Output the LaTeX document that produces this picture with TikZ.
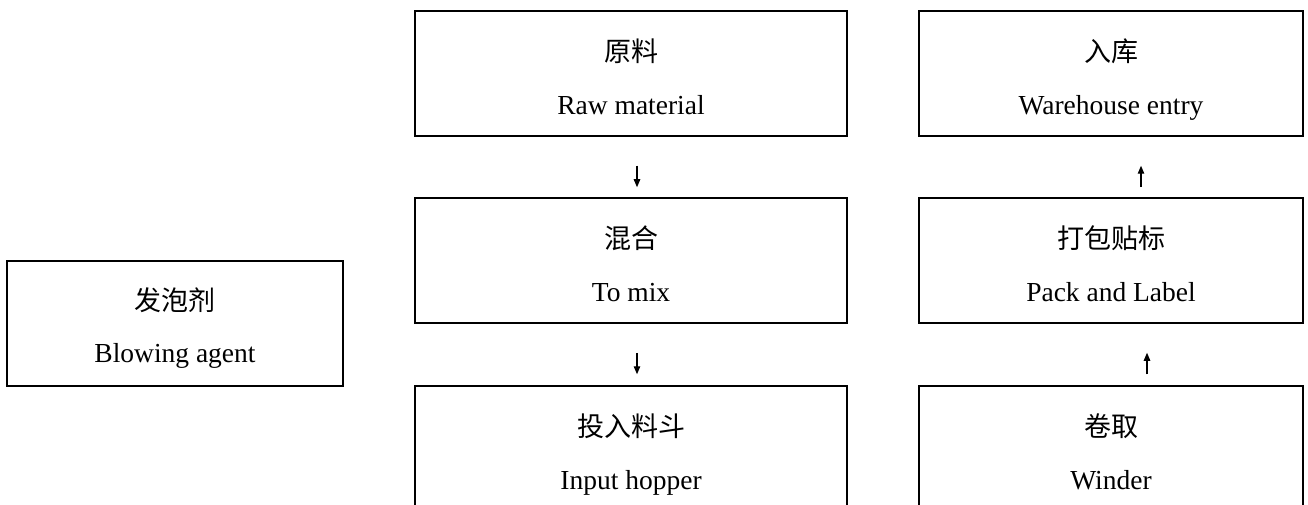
\documentclass[tikz,border=0pt]{standalone}
\usepackage{fontspec}
\setmainfont{Liberation Serif}
\newfontfamily\cjk{Noto Sans CJK SC}
\usetikzlibrary{calc,arrows.meta}
\begin{document}
\begin{tikzpicture}[x=1bp,y=-1bp,
  box/.style={draw=black,line width=1.5bp,rectangle,inner sep=0pt,minimum height=125bp},
  midbox/.style={box,minimum width=432bp},
  rightbox/.style={box,minimum width=384bp},
  leftbox/.style={box,minimum width=336bp},
  cn/.style={font=\cjk\fontsize{27bp}{30bp}\selectfont,inner sep=0pt,anchor=center},
  en/.style={font=\fontsize{27.5bp}{30bp}\selectfont,inner sep=0pt,anchor=base},
  arr/.style={line width=1.1bp,-{Triangle[length=8bp,width=6.5bp]}}]
\useasboundingbox (0,0) rectangle (1308,505);
% boxes
\node[midbox] (raw) at (631,73.5) {};
\node[midbox] (mix) at (631,260.5) {};
\node[midbox] (hop) at (631,448.5) {};
\node[rightbox] (ware) at (1111,73.5) {};
\node[rightbox] (pack) at (1111,260.5) {};
\node[rightbox] (wind) at (1111,448.5) {};
\node[leftbox] (blow) at (175,323.5) {};
% texts
\node[cn] (rawc) at ($(raw.north)+(0,41)$) {原料};
\node[en] (rawe) at ($(raw.north)+(0,104)$) {Raw material};
\node[cn] (mixc) at ($(mix.north)+(0,41)$) {混合};
\node[en] (mixe) at ($(mix.north)+(0,104)$) {To mix};
\node[cn] (hopc) at ($(hop.north)+(0,41)$) {投入料斗};
\node[en] (hope) at ($(hop.north)+(0,104)$) {Input hopper};
\node[cn] (warec) at ($(ware.north)+(0,41)$) {入库};
\node[en] (waree) at ($(ware.north)+(0,104)$) {Warehouse entry};
\node[cn] (packc) at ($(pack.north)+(0,41)$) {打包贴标};
\node[en] (packe) at ($(pack.north)+(0,104)$) {Pack and Label};
\node[cn] (windc) at ($(wind.north)+(0,41)$) {卷取};
\node[en] (winde) at ($(wind.north)+(0,104)$) {Winder};
\node[cn] (blowc) at ($(blow.north)+(0,40)$) {发泡剂};
\node[en] (blowe) at ($(blow.north)+(0,102)$) {Blowing agent};
% arrows
\draw[arr] ($(raw.south)+(6,29)$) -- ($(mix.north)+(6,-10)$);
\draw[arr] ($(mix.south)+(6,29)$) -- ($(hop.north)+(6,-11)$);
\draw[arr] ($(pack.north)+(30,-10)$) -- ($(ware.south)+(30,29)$);
\draw[arr] ($(wind.north)+(36,-11)$) -- ($(pack.south)+(36,29)$);
\end{tikzpicture}
\end{document}
